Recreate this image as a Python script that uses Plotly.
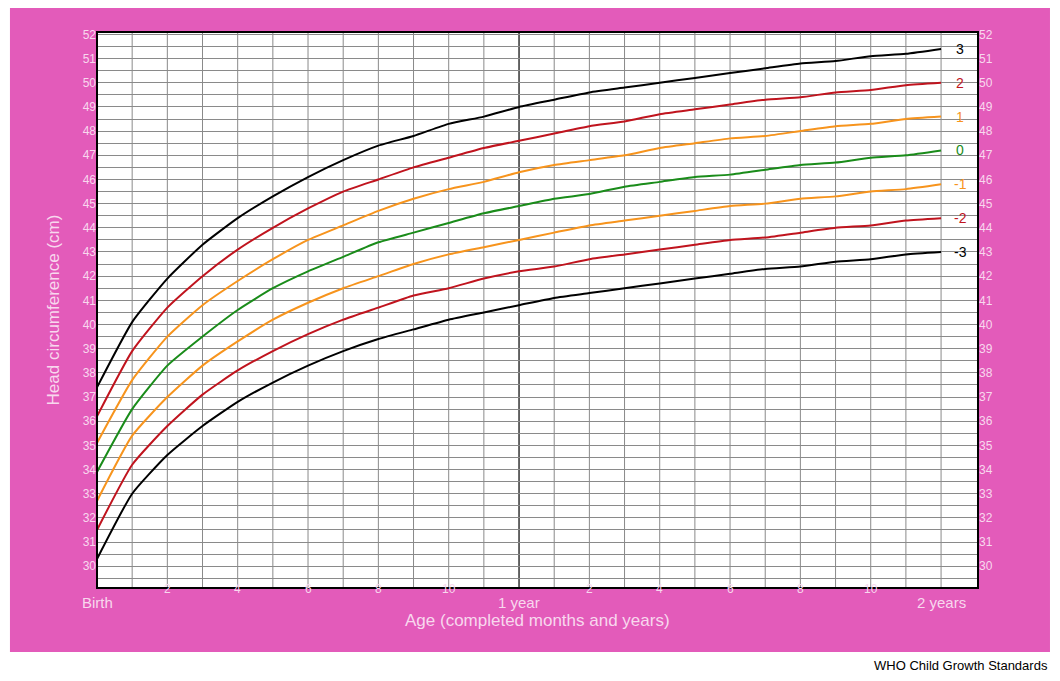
import plotly.graph_objects as go

months = list(range(25))
sd_m3 = [30.3,33.0,34.6,35.8,36.8,37.6,38.3,38.9,39.4,39.8,40.2,40.5,40.8,41.1,41.3,41.5,41.7,41.9,42.1,42.3,42.4,42.6,42.7,42.9,43.0]
sd_m2 = [31.5,34.2,35.8,37.1,38.1,38.9,39.6,40.2,40.7,41.2,41.5,41.9,42.2,42.4,42.7,42.9,43.1,43.3,43.5,43.6,43.8,44.0,44.1,44.3,44.4]
sd_m1 = [32.7,35.4,37.0,38.3,39.3,40.2,40.9,41.5,42.0,42.5,42.9,43.2,43.5,43.8,44.1,44.3,44.5,44.7,44.9,45.0,45.2,45.3,45.5,45.6,45.8]
sd_0 = [33.9,36.5,38.3,39.5,40.6,41.5,42.2,42.8,43.4,43.8,44.2,44.6,44.9,45.2,45.4,45.7,45.9,46.1,46.2,46.4,46.6,46.7,46.9,47.0,47.2]
sd_p1 = [35.1,37.7,39.5,40.8,41.8,42.7,43.5,44.1,44.7,45.2,45.6,45.9,46.3,46.6,46.8,47.0,47.3,47.5,47.7,47.8,48.0,48.2,48.3,48.5,48.6]
sd_p2 = [36.2,38.9,40.7,42.0,43.1,44.0,44.8,45.5,46.0,46.5,46.9,47.3,47.6,47.9,48.2,48.4,48.7,48.9,49.1,49.3,49.4,49.6,49.7,49.9,50.0]
sd_p3 = [37.4,40.1,41.9,43.3,44.4,45.3,46.1,46.8,47.4,47.8,48.3,48.6,49.0,49.3,49.6,49.8,50.0,50.2,50.4,50.6,50.8,50.9,51.1,51.2,51.4]
curve_labels = ["3", "2", "1", "0", "-1", "-2", "-3"]
x_tick_vals = [2, 4, 6, 8, 10, 14, 16, 18, 20, 22]
x_tick_text = ["2", "4", "6", "8", "10", "2", "4", "6", "8", "10"]

BLACK, RED, ORANGE, GREEN = "#000000", "#C0141E", "#F7941D", "#1A8C1A"
series = [(sd_p3, BLACK), (sd_p2, RED), (sd_p1, ORANGE), (sd_0, GREEN),
          (sd_m1, ORANGE), (sd_m2, RED), (sd_m3, BLACK)]
PINK = "#E35BBA"
TXT = "#F8D8EE"

fig = go.Figure()
for (vals, col), lab in zip(series, curve_labels):
    fig.add_trace(go.Scatter(x=months, y=vals, mode="lines", line=dict(color=col, width=2, shape="spline", smoothing=0.5),
                             showlegend=False, hoverinfo="skip"))
    fig.add_annotation(x=24.55, y=vals[-1], text=lab, showarrow=False, font=dict(color=col, size=14, family="Arial"))
fig.add_trace(go.Scatter(x=[0], y=[40], yaxis="y2", mode="markers", marker=dict(opacity=0), showlegend=False, hoverinfo="skip"))

shapes = [dict(type="rect", xref="paper", yref="paper", x0=-0.0988, x1=1.0817, y0=-0.115, y1=1.0486,
               fillcolor=PINK, line=dict(width=0), layer="below"),
          dict(type="rect", xref="paper", yref="paper", x0=0, x1=1, y0=0, y1=1,
               fillcolor="white", line=dict(width=0), layer="below")]
for m in range(25):
    shapes.append(dict(type="line", x0=m, x1=m, y0=29.1, y1=52.1, xref="x", yref="y",
                       line=dict(color="#333333" if m == 12 else "#8a8a8a", width=1.5 if m == 12 else 1), layer="below"))
shapes.append(dict(type="rect", xref="paper", yref="paper", x0=0, x1=1, y0=0, y1=1, line=dict(color="black", width=2)))

annots = [dict(x=-1.5, y=0, xref="x", yref="paper", yshift=-10, text="Months", showarrow=False, font=dict(color=TXT, size=11))]
for v, t in zip(x_tick_vals, x_tick_text):
    annots.append(dict(x=v, y=0, xref="x", yref="paper", yshift=-10, text=t, showarrow=False, font=dict(color=TXT, size=12)))
for v, t in [(0, "Birth"), (12, "1 year"), (24, "2 years")]:
    annots.append(dict(x=v, y=0, xref="x", yref="paper", yshift=-25, text=t, showarrow=False, font=dict(color=TXT, size=15)))
annots.append(dict(x=0.5, y=0, xref="paper", yref="paper", yshift=-44, text="Age (completed months and years)",
                   showarrow=False, font=dict(color=TXT, size=17)))
annots.append(dict(x=1.0817, y=-0.115, xref="paper", yref="paper", xanchor="right", yanchor="top", yshift=-4,
                   text="WHO Child Growth Standards", showarrow=False, font=dict(color="black", size=13)))
for a in annots:
    a.setdefault("font", {})["family"] = "Arial"
for a in annots:
    fig.add_annotation(**a)

yax = dict(range=[29.1, 52.1], tickvals=list(range(30, 53)), showgrid=True, gridcolor="#8a8a8a",
           zeroline=False, tickfont=dict(color=TXT, size=12, family="Arial"), ticks="")
fig.update_layout(
    width=1044, height=665, paper_bgcolor="white", plot_bgcolor="white",
    margin=dict(l=89, r=74, t=24, b=85),
    xaxis=dict(range=[0, 25.05], showgrid=False, showticklabels=False, zeroline=False),
    yaxis=dict(**yax, minor=dict(dtick=0.5, showgrid=True, gridcolor="#8a8a8a"),
               title=dict(text="Head circumference (cm)", font=dict(color=TXT, size=17, family="Arial"), standoff=18)),
    yaxis2=dict(range=[29.1, 52.1], tickvals=list(range(30, 53)), overlaying="y", side="right", showgrid=False,
                zeroline=False, tickfont=dict(color=TXT, size=12, family="Arial")),
    shapes=shapes,
)
fig.write_html("out.html")
